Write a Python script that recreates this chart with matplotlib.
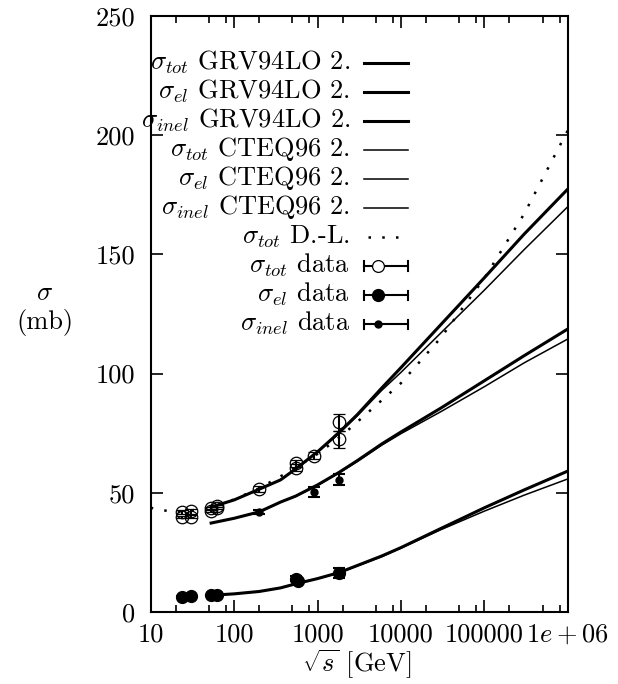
import numpy as np
import matplotlib
matplotlib.use('Agg')
import matplotlib.pyplot as plt
from matplotlib.ticker import FixedLocator, FixedFormatter, LogLocator, NullFormatter

plt.rcParams['font.family'] = ['cmr10', 'DejaVu Serif']
plt.rcParams['mathtext.fontset'] = 'cm'
plt.rcParams['axes.unicode_minus'] = False
plt.rcParams['axes.formatter.use_mathtext'] = True

# ---- model curves ----
grv_x = [53, 100, 200, 360, 546, 1000, 1800, 3000, 5900, 10000, 30000, 100000, 300000, 1000000]
grv_tot = [44.0, 47.0, 51.5, 55.4, 60.0, 67.2, 75.2, 82.8, 94.0, 102.5, 120.5, 140.2, 158.5, 177.4]
grv_el = [7.0, 7.6, 8.6, 10.1, 11.8, 14.0, 16.5, 19.5, 23.5, 27.0, 35.0, 43.7, 51.2, 59.1]
grv_inel = [37.3, 39.3, 42.0, 46.1, 48.6, 53.3, 58.5, 63.5, 70.5, 75.5, 85.5, 97.0, 107.5, 118.7]

cteq_x = [53, 100, 200, 360, 546, 1000, 1800, 3000, 5900, 10000, 30000, 100000, 300000, 1000000]
cteq_tot = [44.0, 47.0, 51.5, 55.4, 60.0, 67.0, 74.8, 82.3, 93.0, 100.5, 117.0, 135.0, 152.0, 170.0]
cteq_el = [7.0, 7.6, 8.6, 10.1, 11.8, 14.0, 16.4, 19.3, 23.2, 26.8, 34.5, 42.3, 49.0, 55.8]
cteq_inel = [37.3, 39.3, 42.0, 46.1, 48.5, 53.1, 58.3, 63.1, 70.0, 74.8, 84.0, 94.5, 104.5, 114.5]

dl_x = [10, 20, 50, 100, 200, 500, 1000, 2000, 5000, 10000, 30000, 100000, 300000, 1000000]
dl_tot = [43.7, 41.7, 43.6, 47.2, 51.9, 59.7, 66.3, 74.3, 86.6, 96.0, 115.0, 140.0, 167.0, 202.0]

# ---- data points ----
tot_x = [23.5, 23.5, 30.6, 30.6, 52.8, 52.8, 62.5, 62.5, 200, 546, 546, 900, 1800, 1800]
tot_y = [39.8, 41.8, 40.0, 42.2, 42.5, 43.5, 43.8, 44.6, 51.6, 60.6, 62.3, 65.6, 79.5, 72.5]
tot_err = [0.5, 0.9, 0.5, 0.9, 0.4, 0.4, 0.4, 0.4, 1.2, 1.5, 1.5, 1.6, 3.5, 3.6]

el_x = [23.5, 30.6, 52.8, 62.5, 546, 580, 1800]
el_y = [6.3, 6.6, 7.1, 7.3, 13.9, 13.0, 16.3]
el_err = [0.2, 0.2, 0.2, 0.2, 1.0, 0.6, 2.0]

inel_x = [200, 900, 1800]
inel_y = [42.0, 50.3, 55.5]
inel_err = [0.8, 2.0, 2.4]

xticks = [10, 100, 1000, 10000, 100000, 1000000]
xlabels = ['10', '100', '1000', '10000', '100000', '$1e+06$']
yticks = [0, 50, 100, 150, 200, 250]

fs = 19

fig = plt.figure(figsize=(6.18, 6.84), dpi=100)
ax = fig.add_axes([0.2439, 0.1053, 0.6748, 0.8713])

thick = 2.2
thin = 1.1
ax.plot(grv_x, grv_tot, color='black', lw=thick)
ax.plot(grv_x, grv_el, color='black', lw=thick)
ax.plot(grv_x, grv_inel, color='black', lw=thick)
ax.plot(cteq_x, cteq_tot, color='black', lw=thin)
ax.plot(cteq_x, cteq_el, color='black', lw=thin)
ax.plot(cteq_x, cteq_inel, color='black', lw=thin)
ax.plot(dl_x, dl_tot, color='black', lw=1.8, dashes=(1, 4.5))

eb = dict(color='black', ecolor='black', elinewidth=1.5, capthick=1.5, capsize=4.5, ls='none')
ax.errorbar(tot_x, tot_y, yerr=tot_err, marker='o', ms=9, mfc='none', mec='black', mew=0.9, **eb)
ax.errorbar(el_x, el_y, yerr=el_err, marker='o', ms=8.5, mfc='black', mec='black', **eb)
ax.errorbar(inel_x, inel_y, yerr=inel_err, marker='o', ms=5, mfc='black', mec='black', **eb)

ax.set_xscale('log')
ax.set_xlim(10, 1000000)
ax.set_ylim(0, 250)
ax.xaxis.set_major_locator(FixedLocator(xticks))
ax.xaxis.set_major_formatter(FixedFormatter(xlabels))
ax.xaxis.set_minor_locator(LogLocator(base=10, subs=(2.0, 5.0, 8.0)))
ax.xaxis.set_minor_formatter(NullFormatter())
ax.set_yticks(yticks)
ax.set_yticklabels([str(v) for v in yticks])
ax.tick_params(which='both', direction='in', top=True, right=True, width=1.2, labelsize=fs)
ax.tick_params(which='major', length=8.5)
ax.tick_params(which='minor', length=5)
ax.tick_params(axis='y', pad=11)
ax.tick_params(axis='x', pad=8)
for s in ax.spines.values():
    s.set_linewidth(1.5)

# legend, gnuplot style: right aligned text, sample on the right
leg = [
    (r'$\sigma_{tot}$ GRV94LO 2.', 'thick'),
    (r'$\sigma_{el}$ GRV94LO 2.', 'thick'),
    (r'$\sigma_{inel}$ GRV94LO 2.', 'thick'),
    (r'$\sigma_{tot}$ CTEQ96 2.', 'thin'),
    (r'$\sigma_{el}$ CTEQ96 2.', 'thin'),
    (r'$\sigma_{inel}$ CTEQ96 2.', 'thin'),
    (r'$\sigma_{tot}$ D.-L.', 'dots'),
    (r'$\sigma_{tot}$ data', 'open'),
    (r'$\sigma_{el}$ data', 'filled'),
    (r'$\sigma_{inel}$ data', 'small'),
]
tx = 0.478
x0, x1 = 0.511, 0.616
y_top = 0.921
step = 0.0487
tr = ax.transAxes
for i, (label, kind) in enumerate(leg):
    yy = y_top - i * step
    ax.text(tx, yy - 0.010, label, transform=tr, ha='right', va='baseline', fontsize=fs)
    if kind == 'thick':
        ax.plot([x0, x1], [yy, yy], transform=tr, color='black', lw=thick, clip_on=False)
    elif kind == 'thin':
        ax.plot([x0, x1], [yy, yy], transform=tr, color='black', lw=thin, clip_on=False)
    elif kind == 'dots':
        ax.plot([x0 + 0.01, x1], [yy, yy], transform=tr, color='black', lw=1.8, dashes=(1, 4.5), clip_on=False)
    else:
        ax.plot([x0, x1], [yy, yy], transform=tr, color='black', lw=1.5, clip_on=False)
        ax.plot([x0, x0], [yy - 0.008, yy + 0.008], transform=tr, color='black', lw=1.5, clip_on=False)
        ax.plot([x1, x1], [yy - 0.008, yy + 0.008], transform=tr, color='black', lw=1.5, clip_on=False)
        mx = x0 + 0.033
        if kind == 'open':
            ax.plot([mx], [yy], transform=tr, marker='o', ms=8.5, mfc='white', mec='black', mew=0.9, clip_on=False)
        elif kind == 'filled':
            ax.plot([mx], [yy], transform=tr, marker='o', ms=8.5, mfc='black', mec='black', clip_on=False)
        else:
            ax.plot([mx], [yy], transform=tr, marker='o', ms=5, mfc='black', mec='black', clip_on=False)

fig.text(45 / 618, 1 - 309 / 684, '$\\sigma$\n(mb)', ha='center', va='center', fontsize=fs, multialignment='center')
fig.text(357 / 618, 1 - 664 / 684, r'$\sqrt{s}$ [GeV]', ha='center', va='center', fontsize=fs)

fig.savefig('out.png', dpi=100)
